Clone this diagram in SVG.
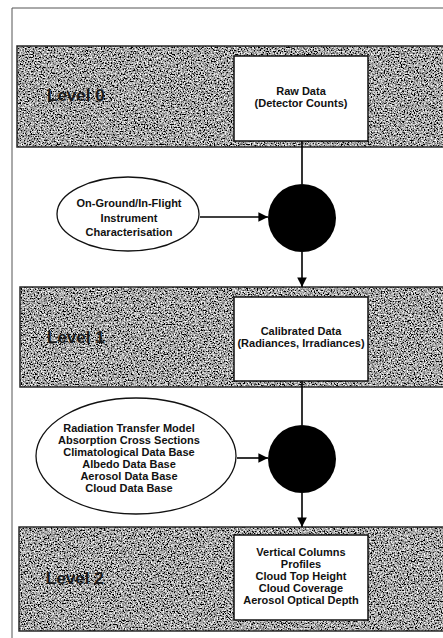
<svg xmlns="http://www.w3.org/2000/svg" width="443" height="638" viewBox="0 0 443 638">
<style>
.band{fill:#7c7c7c;filter:url(#grain)}
.bandedge{fill:none;stroke:#2a2a2a;stroke-width:1.5}
.box{fill:#fff;stroke:#111;stroke-width:1.5}
.t{font-family:"Liberation Sans",Arial,sans-serif;font-weight:bold;font-size:11px;fill:#111;text-anchor:middle}
.lvl{font-family:"Liberation Sans",Arial,sans-serif;font-weight:bold;font-size:17px;fill:#1a1a1a}
.ell{fill:#fff;stroke:#111;stroke-width:1.3}
.proc{fill:#000}
.conn{stroke:#000;stroke-width:1.6;fill:none}
</style>
<defs>
<filter id="grain" x="0" y="0" width="1" height="1">
<feTurbulence type="fractalNoise" baseFrequency="0.7" numOctaves="2" seed="7" result="n"/>
<feColorMatrix in="n" type="matrix" values="1 0 0 0 0 1 0 0 0 0 1 0 0 0 0 0 0 0 0 1" result="g"/>
<feComponentTransfer in="g" result="c">
<feFuncR type="linear" slope="2.4" intercept="-0.82"/>
<feFuncG type="linear" slope="2.4" intercept="-0.82"/>
<feFuncB type="linear" slope="2.4" intercept="-0.82"/>
<feFuncA type="linear" slope="0" intercept="1"/>
</feComponentTransfer>
<feComposite in="c" in2="SourceGraphic" operator="in"/>
</filter>
<marker id="ah" viewBox="0 0 10 10" refX="10" refY="5" markerWidth="6" markerHeight="6" orient="auto" markerUnits="strokeWidth">
<path d="M0,0 L10,5 L0,10 z" fill="#000"/>
</marker>
</defs>
<rect width="443" height="638" fill="#fff"/>
<g id="frame" stroke="#555" stroke-width="1" fill="none">
<path d="M12,8 H443"/>
<path d="M12,8 V638"/>
</g>
<g id="level0">
<rect class="band" x="17" y="46" width="430" height="101"/>
<rect class="bandedge" x="17" y="46" width="430" height="101"/>
<text class="lvl" x="47" y="101">Level 0</text>
</g>
<g id="level1">
<rect class="band" x="20" y="287" width="430" height="100"/>
<rect class="bandedge" x="20" y="287" width="430" height="100"/>
<text class="lvl" x="47" y="343">Level 1</text>
</g>
<g id="level2">
<rect class="band" x="19" y="527" width="430" height="104"/>
<rect class="bandedge" x="19" y="527" width="430" height="104"/>
<text class="lvl" x="46" y="584">Level 2</text>
</g>
<g id="connectors">
<path class="conn" d="M302,141 V184"/>
<path class="conn" d="M200,217 H268" marker-end="url(#ah)"/>
<path class="conn" d="M302,252 V287" marker-end="url(#ah)"/>
<path class="conn" d="M302,381 V425"/>
<path class="conn" d="M237,458 H268" marker-end="url(#ah)"/>
<path class="conn" d="M302,493 V527" marker-end="url(#ah)"/>
</g>
<g id="raw-data">
<rect class="box" x="234" y="56" width="134" height="85"/>
<text class="t" x="301" y="95">Raw Data</text>
<text class="t" x="301" y="107">(Detector Counts)</text>
</g>
<g id="instrument-characterisation">
<ellipse class="ell" cx="128" cy="214" rx="71" ry="37"/>
<text class="t" x="129" y="207">On-Ground/In-Flight</text>
<text class="t" x="129" y="222">Instrument</text>
<text class="t" x="129" y="236">Characterisation</text>
</g>
<g id="process-1">
<circle class="proc" cx="302" cy="218" r="34"/>
</g>
<g id="calibrated-data">
<rect class="box" x="234" y="297" width="134" height="84"/>
<text class="t" x="301" y="335">Calibrated Data</text>
<text class="t" x="301" y="347">(Radiances, Irradiances)</text>
</g>
<g id="auxiliary-data">
<ellipse class="ell" cx="136" cy="456" rx="100" ry="58"/>
<text class="t" x="129" y="432">Radiation Transfer Model</text>
<text class="t" x="129" y="444">Absorption Cross Sections</text>
<text class="t" x="129" y="456">Climatological Data Base</text>
<text class="t" x="129" y="468">Albedo Data Base</text>
<text class="t" x="129" y="480">Aerosol Data Base</text>
<text class="t" x="129" y="492">Cloud Data Base</text>
</g>
<g id="process-2">
<circle class="proc" cx="302" cy="459" r="34"/>
</g>
<g id="level2-products">
<rect class="box" x="234" y="535" width="134" height="85"/>
<text class="t" x="301" y="556">Vertical Columns</text>
<text class="t" x="301" y="568">Profiles</text>
<text class="t" x="301" y="580">Cloud Top Height</text>
<text class="t" x="301" y="592">Cloud Coverage</text>
<text class="t" x="301" y="604">Aerosol Optical Depth</text>
</g>
</svg>
